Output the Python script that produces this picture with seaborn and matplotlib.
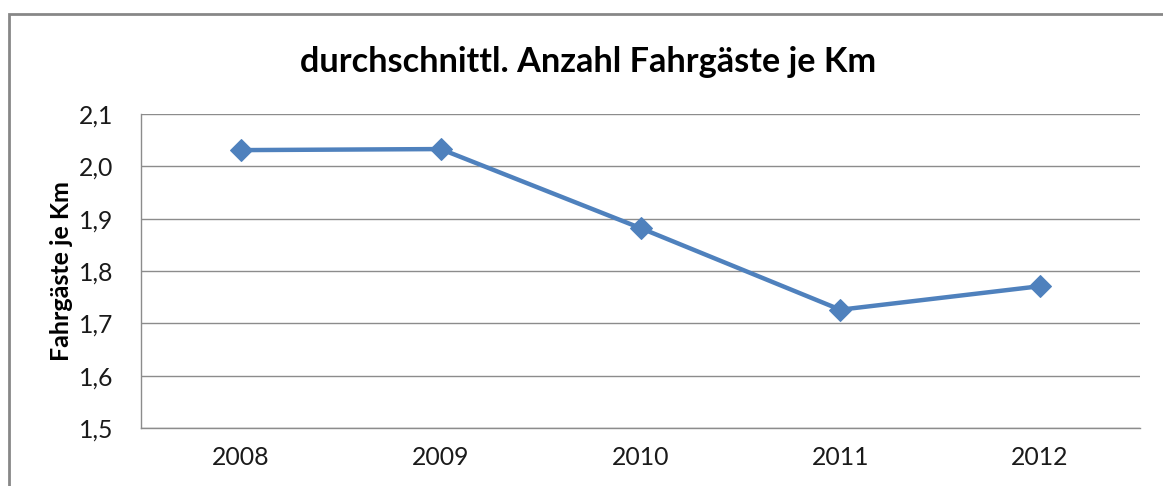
import matplotlib
matplotlib.use("Agg")
import matplotlib.pyplot as plt
import matplotlib.patches as mpatches
import seaborn as sns
import pandas as pd
from matplotlib.ticker import FuncFormatter

years = ["2008", "2009", "2010", "2011", "2012"]
values = [2.031, 2.033, 1.882, 1.726, 1.771]
yticks = [1.5, 1.6, 1.7, 1.8, 1.9, 2.0, 2.1]
title = "durchschnittl. Anzahl Fahrgäste je Km"
ylabel = "Fahrgäste je Km"

sns.set_theme(style="white")
plt.rcParams['font.family'] = ['Lato', 'DejaVu Sans']

df = pd.DataFrame({"Jahr": years, "Wert": values})

fig = plt.figure(figsize=(11.63, 4.86), dpi=100)
ax = fig.add_axes([141/1163, 1-428/486, (1140-141)/1163, (428-114)/486])

sns.lineplot(data=df, x="Jahr", y="Wert", ax=ax, color="#4F81BD",
             linewidth=3.2, marker="D", markersize=11, markeredgecolor="#4F81BD",
             sort=False)

ax.set_xlim(-0.5, 4.5)
ax.set_ylim(1.5, 2.1)
ax.set_yticks(yticks)
ax.yaxis.set_major_formatter(FuncFormatter(lambda v, p: f"{v:.1f}".replace(".", ",")))
ax.grid(axis="y", color="#8c8c8c", linewidth=1.0)
ax.set_axisbelow(True)
for s in ["top", "right"]:
    ax.spines[s].set_visible(False)
for s in ["left", "bottom"]:
    ax.spines[s].set_color("#8c8c8c")
    ax.spines[s].set_linewidth(1.0)
ax.tick_params(axis="both", length=0, labelsize=17.8, colors="#1a1a1a")
ax.tick_params(axis="y", pad=20)
ax.tick_params(axis="x", pad=13)
ax.set_xlabel("")
ax.set_ylabel(ylabel, fontsize=18, fontweight="bold", color="#000000", labelpad=4)

fig.text(588/1163, 1-62/486, title, ha="center", va="center",
         fontsize=24.7, fontweight="bold", color="#000000")

rect = mpatches.Rectangle((9/1163, -0.2), 1.2, 1.2 - 14/486, transform=fig.transFigure,
                          fill=False, edgecolor="#878787", linewidth=2.0, clip_on=False)
fig.patches.append(rect)

fig.savefig("out.png", dpi=100)
